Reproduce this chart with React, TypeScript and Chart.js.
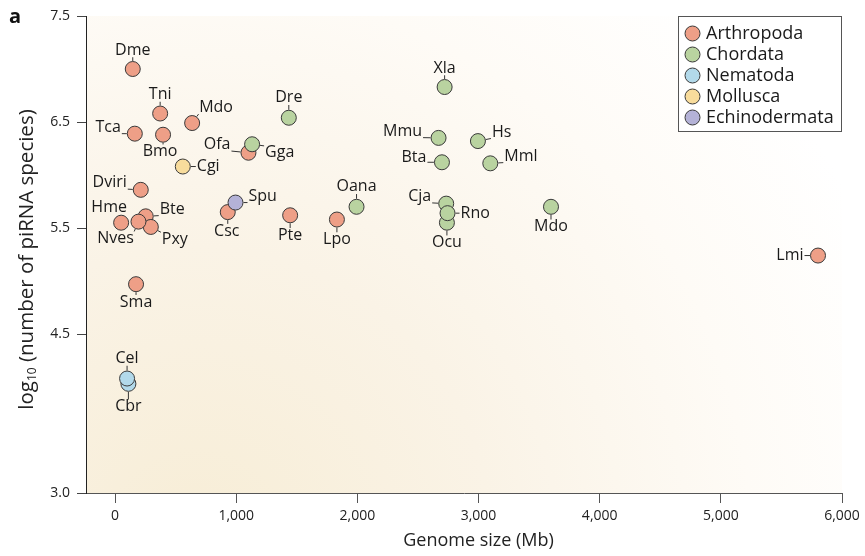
import React, { useEffect, useRef } from 'react';
import { Chart, registerables } from 'chart.js';

Chart.register(...registerables);

const FONT = '"Open Sans", "Noto Sans", "DejaVu Sans", sans-serif';

// ---------------- data ----------------
const categories = ['Arthropoda', 'Chordata', 'Nematoda', 'Mollusca', 'Echinodermata'];
const categoryColors = ['#ee9f87', '#b9d3a0', '#b2d9ea', '#f8dc9c', '#b4b2d7'];

const arthropodaNames = ['Dme', 'Tni', 'Mdo', 'Tca', 'Bmo', 'Ofa', 'Dviri', 'Hme', 'Bte', 'Pxy', 'Nves', 'Csc', 'Pte', 'Lpo', 'Lmi', 'Sma'];
const arthropodaGenome = [146, 372, 636, 163, 396, 1101, 212, 50, 253, 295, 193, 930, 1445, 1831, 5802, 173];
const arthropodaLogPirna = [7.0, 6.58, 6.49, 6.39, 6.38, 6.21, 5.86, 5.55, 5.61, 5.51, 5.56, 5.65, 5.62, 5.58, 5.24, 4.97];

const chordataNames = ['Dre', 'Gga', 'Oana', 'Xla', 'Mmu', 'Hs', 'Bta', 'Mml', 'Cja', 'Ocu', 'Rno', 'Mdo'];
const chordataGenome = [1434, 1131, 1993, 2720, 2670, 2995, 2698, 3097, 2733, 2739, 2744, 3598];
const chordataLogPirna = [6.54, 6.29, 5.70, 6.83, 6.35, 6.32, 6.12, 6.11, 5.73, 5.55, 5.64, 5.70];

const nematodaNames = ['Cbr', 'Cel'];
const nematodaGenome = [110, 99];
const nematodaLogPirna = [4.03, 4.08];

const molluscaNames = ['Cgi'];
const molluscaGenome = [559];
const molluscaLogPirna = [6.08];

const echinodermataNames = ['Spu'];
const echinodermataGenome = [994];
const echinodermataLogPirna = [5.74];

const xTickValues = [0, 1000, 2000, 3000, 4000, 5000, 6000];
const yTickValues = [3.0, 4.5, 5.5, 6.5, 7.5];

// ---------------- label layout (offset of label from its point, in px) ----------------
// [dx, dy, anchor]  anchor: 'c' centred, 'e' text ends at anchor, 's' text starts at anchor
type LP = [number, number, string];
const arthropodaLabelPos: LP[] = [
  [0, -19, 'c'], [0, -19, 'c'], [7, -16, 's'], [-14, -6, 'e'], [-3, 17, 'c'], [-18, -8, 'e'],
  [-14, -7, 'e'], [-12, -15, 'c'], [14, -7, 's'], [11, 12, 's'], [-23, 17, 'c'], [-1, 19, 'c'],
  [0, 20, 'c'], [0, 20, 'c'], [-14.5, 0, 'e'], [0, 18, 'c'],
];
const chordataLabelPos: LP[] = [
  [0, -20, 'c'], [13, 8, 's'], [0, -20, 'c'], [0, -19, 'c'], [-16.5, -6.5, 'e'], [14, -9, 's'],
  [-15.5, -4.5, 'e'], [14, -7, 's'], [-15, -7, 'e'], [0, 20, 'c'], [13, 0, 's'], [0, 20, 'c'],
];
const nematodaLabelPos: LP[] = [[0, 23, 'c'], [0, -20, 'c']];
const molluscaLabelPos: LP[] = [[14, 0, 's']];
const echinodermataLabelPos: LP[] = [[13, -6, 's']];

const groups = [
  { names: arthropodaNames, x: arthropodaGenome, y: arthropodaLogPirna, pos: arthropodaLabelPos, order: 5 },
  { names: chordataNames, x: chordataGenome, y: chordataLogPirna, pos: chordataLabelPos, order: 4 },
  { names: nematodaNames, x: nematodaGenome, y: nematodaLogPirna, pos: nematodaLabelPos, order: 3 },
  { names: molluscaNames, x: molluscaGenome, y: molluscaLogPirna, pos: molluscaLabelPos, order: 2 },
  { names: echinodermataNames, x: echinodermataGenome, y: echinodermataLogPirna, pos: echinodermataLabelPos, order: 1 },
];

const POINT_R = 7.5;
const STROKE = '#3a3a3a';

const backgroundPlugin = {
  id: 'bgGradient',
  beforeDraw(chart: any) {
    const { ctx, chartArea: a, width, height } = chart;
    ctx.save();
    ctx.fillStyle = '#ffffff';
    ctx.fillRect(0, 0, width, height);
    const g = ctx.createRadialGradient(a.left + 110, a.bottom + 50, 0, a.left + 110, a.bottom + 50, 740);
    g.addColorStop(0, '#f7edd6');
    g.addColorStop(0.4, '#faf3e6');
    g.addColorStop(0.75, '#fefbf6');
    g.addColorStop(1, '#ffffff');
    ctx.fillStyle = g;
    ctx.fillRect(a.left, a.top, a.right - a.left, a.bottom - a.top);
    ctx.restore();
  },
};

const labelsPlugin = {
  id: 'pointLabels',
  afterDatasetsDraw(chart: any) {
    const ctx = chart.ctx;
    ctx.save();
    const fs = 16;
    ctx.font = `${fs}px ${FONT}`;
    ctx.fillStyle = '#1a1a1a';
    ctx.strokeStyle = '#333';
    ctx.lineWidth = 1;
    ctx.textBaseline = 'middle';
    groups.forEach((g, gi) => {
      const meta = chart.getDatasetMeta(gi);
      g.names.forEach((name, i) => {
        const el = meta.data[i];
        if (!el) return;
        const px = el.x, py = el.y;
        const [dx, dy, an] = g.pos[i];
        const w = ctx.measureText(name).width;
        const h = fs * 0.78;
        let cx = px + dx;
        if (an === 'e') cx = px + dx - w / 2;
        if (an === 's') cx = px + dx + w / 2;
        const cy = py + dy;
        // leader line
        const nx = Math.min(Math.max(px, cx - w / 2), cx + w / 2);
        const ny = Math.min(Math.max(py, cy - h / 2), cy + h / 2);
        const vx = nx - px, vy = ny - py;
        const d = Math.hypot(vx, vy);
        if (d > POINT_R + 2.5) {
          const ux = vx / d, uy = vy / d;
          ctx.beginPath();
          ctx.moveTo(px + ux * (POINT_R + 0.5), py + uy * (POINT_R + 0.5));
          ctx.lineTo(px + ux * (d - 1), py + uy * (d - 1));
          ctx.stroke();
        }
        ctx.textAlign = 'center';
        ctx.fillText(name, cx, cy);
      });
    });
    ctx.restore();
  },
};

const decorPlugin = {
  id: 'decor',
  afterDraw(chart: any) {
    const { ctx, chartArea: a, scales } = chart;
    ctx.save();
    // panel letter
    ctx.fillStyle = '#111';
    ctx.font = `bold 20px ${FONT}`;
    ctx.textAlign = 'center';
    ctx.textBaseline = 'middle';
    ctx.fillText('a', 15, 17);

    // x title centred on the data range
    const xs = scales.x;
    const xc = (xs.getPixelForValue(xTickValues[0]) + xs.getPixelForValue(xTickValues[xTickValues.length - 1])) / 2;
    ctx.font = `18px ${FONT}`;
    ctx.fillStyle = '#222';
    ctx.fillText('Genome size (Mb)', xc, 541);

    // y title with subscript
    const yc = (a.top + a.bottom) / 2 + 5;
    ctx.translate(27, yc);
    ctx.rotate(-Math.PI / 2);
    const fs = 20.5;
    const mainFont = `${fs}px ${FONT}`;
    const subFont = `${Math.round(fs * 0.6)}px ${FONT}`;
    const p1 = 'log', p2 = '10', p3 = ' (number of piRNA species)';
    ctx.font = mainFont;
    const w1 = ctx.measureText(p1).width;
    const w3 = ctx.measureText(p3).width;
    ctx.font = subFont;
    const w2 = ctx.measureText(p2).width;
    let sx = -(w1 + w2 + w3) / 2;
    ctx.textAlign = 'left';
    ctx.textBaseline = 'alphabetic';
    ctx.font = mainFont;
    ctx.fillText(p1, sx, 6);
    sx += w1;
    ctx.font = subFont;
    ctx.fillText(p2, sx, 9);
    sx += w2;
    ctx.font = mainFont;
    ctx.fillText(p3, sx, 6);
    ctx.restore();

    // legend
    ctx.save();
    const lx = 678.5, ly = 16.5, lw = 163, lh = 115;
    ctx.fillStyle = '#ffffff';
    ctx.fillRect(lx, ly, lw, lh);
    ctx.strokeStyle = '#555';
    ctx.lineWidth = 1;
    ctx.strokeRect(lx, ly, lw, lh);
    ctx.font = `18px ${FONT}`;
    ctx.textAlign = 'left';
    ctx.textBaseline = 'middle';
    categories.forEach((c, i) => {
      const cy = 33.5 + i * 21;
      ctx.beginPath();
      ctx.arc(692.5, cy, POINT_R, 0, Math.PI * 2);
      ctx.fillStyle = categoryColors[i];
      ctx.fill();
      ctx.strokeStyle = STROKE;
      ctx.stroke();
      ctx.fillStyle = '#1a1a1a';
      ctx.fillText(c, 706, cy);
    });
    ctx.restore();
  },
};

export default function App() {
  const ref = useRef<HTMLCanvasElement>(null);
  useEffect(() => {
    document.body.style.margin = '0';
    const datasets = groups.map((g, gi) => ({
      label: categories[gi],
      data: g.names.map((_, i) => ({ x: g.x[i], y: g.y[i] })),
      backgroundColor: categoryColors[gi],
      borderColor: STROKE,
      borderWidth: 1,
      pointRadius: POINT_R,
      pointHoverRadius: POINT_R,
      order: g.order,
    }));
    const chart = new Chart(ref.current!, {
      type: 'scatter',
      data: { datasets },
      plugins: [backgroundPlugin, labelsPlugin, decorPlugin],
      options: {
        responsive: false,
        animation: false,
        events: [],
        layout: { padding: { top: 16, right: 23, bottom: 0, left: 0 } },
        plugins: { legend: { display: false }, tooltip: { enabled: false } },
        scales: {
          x: {
            type: 'linear',
            min: -240,
            max: 6000,
            afterBuildTicks: (s: any) => { s.ticks = xTickValues.map((v) => ({ value: v })); },
            afterFit: (s: any) => { s.height = 63; },
            ticks: {
              callback: (v: any) => Number(v).toLocaleString('en-US'),
              font: { family: FONT, size: 14 },
              color: '#222',
              padding: 5,
              maxRotation: 0,
              autoSkip: false,
            },
            grid: { drawOnChartArea: false, drawTicks: true, tickLength: 10, color: '#555' },
            border: { display: true, color: '#555', width: 1 },
          },
          y: {
            type: 'linear',
            min: 3,
            max: 7.5,
            afterBuildTicks: (s: any) => { s.ticks = yTickValues.map((v) => ({ value: v })); },
            afterFit: (s: any) => { s.width = 86; },
            ticks: {
              callback: (v: any) => Number(v).toFixed(1),
              font: { family: FONT, size: 14 },
              color: '#222',
              padding: 7,
              autoSkip: false,
            },
            grid: { drawOnChartArea: false, drawTicks: true, tickLength: 9, color: '#444' },
            border: { display: true, color: '#222', width: 1 },
          },
        },
      },
    } as any);
    return () => chart.destroy();
  }, []);
  return <canvas ref={ref} width={865} height={556} style={{ display: 'block' }} />;
}
